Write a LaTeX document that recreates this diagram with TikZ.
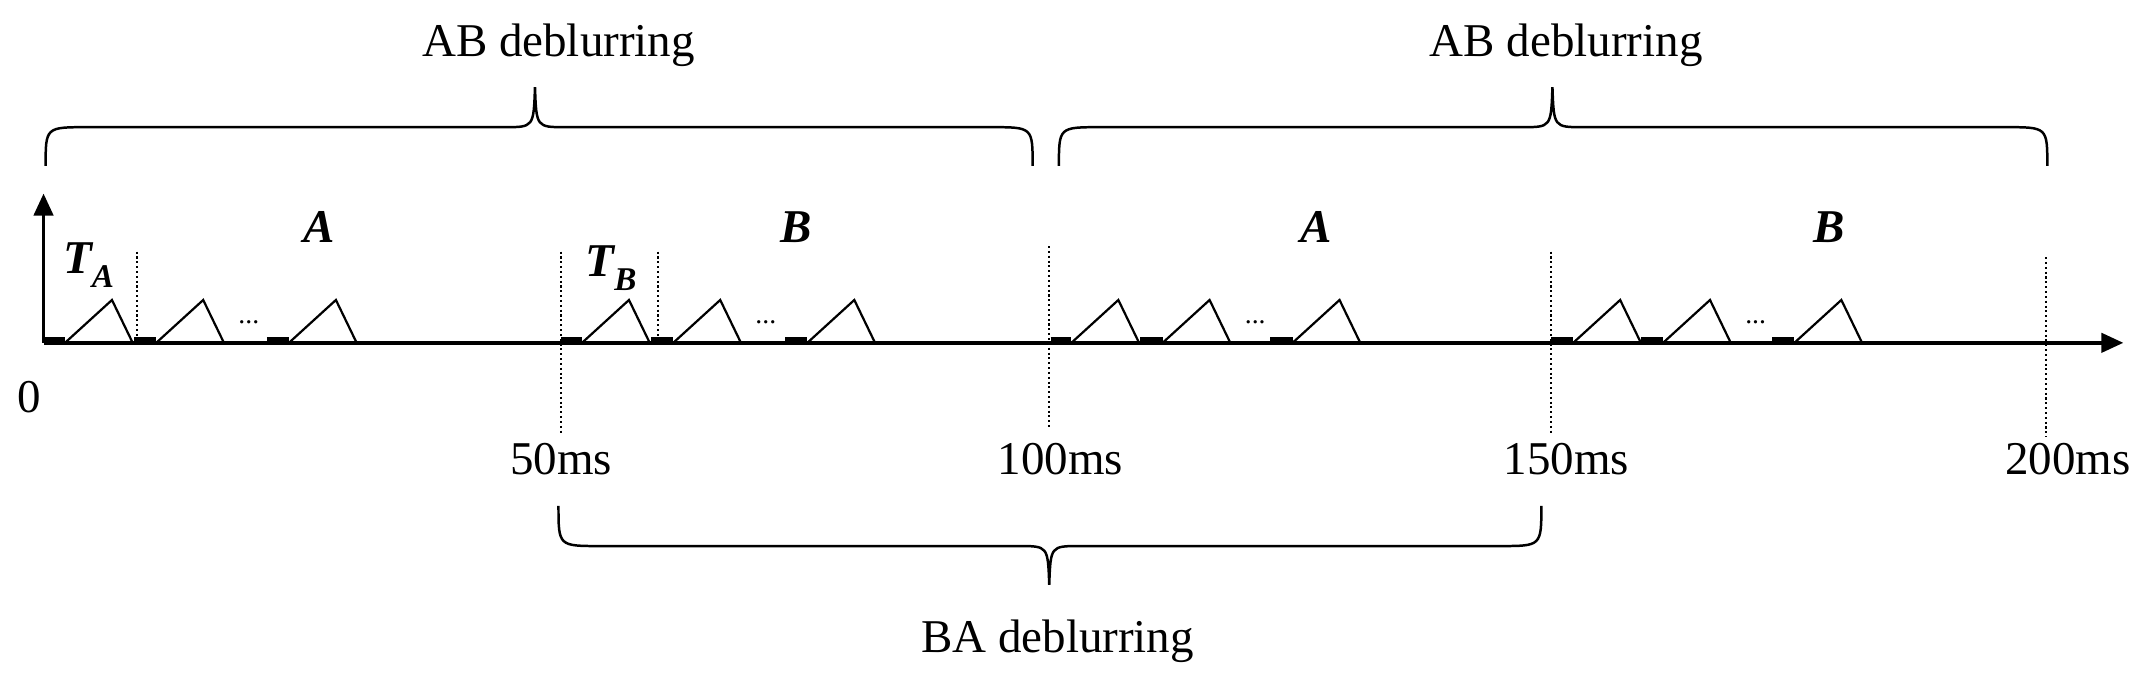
\documentclass[tikz,border=0pt]{standalone}
\usepackage{fontspec}
\setmainfont{Liberation Serif}
\usetikzlibrary{arrows.meta}
\tikzset{
  axisline/.style={line width=2.6pt,-{Triangle[length=16pt,width=14pt]}},
  pulse/.style={line width=1.6pt,line join=miter},
  thickseg/.style={line width=5pt},
  guide/.style={line width=1.5pt,dotted},
  brace/.style={line width=1.8pt},
  lbl/.style={font=\fontsize{34}{36}\selectfont,inner sep=0pt},
  biglbl/.style={font=\fontsize{34}{36}\selectfont\bfseries\itshape,inner sep=0pt},
}
\newcommand{\subsc}[1]{\raisebox{-0.3em}{\fontsize{24}{24}\selectfont #1}}
\begin{document}
\begin{tikzpicture}[x=1pt,y=-1pt]
\useasboundingbox (0,0) rectangle (1556,495);
% pulses
\foreach \s/\a/\b/\c in {32/15/81/177, 406/15/81/178, 760/15/81/175, 1122/16/81/176}{
  \draw[thickseg] (\s,246) -- (\s+\a,246);
  \draw[thickseg] (\s+\b-16,246) -- (\s+\b,246);
  \draw[thickseg] (\s+\c-16,246) -- (\s+\c,246);
  \foreach \p in {\a,\b,\c}{
    \draw[pulse] (\s+\p,248) -- (\s+\p+34,217) -- (\s+\p+49,248);
  }
  \node[font=\fontsize{20}{20}\selectfont,inner sep=0pt] at (\s+148,233) {...};
}
% axes
\coordinate (o) at (31.5,248);
\coordinate (xend) at (1536,248);
\coordinate (yend) at (31.5,140);
\draw[axisline] (o) -- (xend);
\draw[axisline] (o) -- (yend);
% dotted guides
\draw[guide] (99,182) -- (99,248);
\draw[guide] (476,182) -- (476,248);
\draw[guide] (406,182) -- (406,313);
\draw[guide] (759,178) -- (759,311);
\draw[guide] (1122,182) -- (1122,313);
\draw[guide] (1480,186) -- (1480,316);
% labels
\node[biglbl] (ta) at (64,192) {T\subsc{A}};
\node[biglbl] (tb) at (442,194) {T\subsc{B}};
\node[biglbl] (la1) at (231,164) {A};
\node[biglbl] (lb1) at (576,164) {B};
\node[biglbl] (la2) at (952,164) {A};
\node[biglbl] (lb2) at (1323,164) {B};
\node[lbl] (t0) at (21,287) {0};
\node[lbl] (t50) at (406,332) {50ms};
\node[lbl] (t100) at (767,332) {100ms};
\node[lbl] (t150) at (1133,332) {150ms};
\node[lbl] (t200) at (1496,332) {200ms};
% braces
\draw[brace] (33,120) .. controls (33,92) .. (63,92) -- (365,92) .. controls (386,92) .. (387,63) .. controls (388,92) .. (409,92) -- (717,92) .. controls (747,92) .. (747,120);
\draw[brace] (766,120) .. controls (766,92) .. (796,92) -- (1101,92) .. controls (1122,92) .. (1123,63) .. controls (1124,92) .. (1145,92) -- (1451,92) .. controls (1481,92) .. (1481,120);
\draw[brace] (404,366) .. controls (404,395) .. (434,395) -- (737,395) .. controls (758,395) .. (759,423) .. controls (760,395) .. (781,395) -- (1085,395) .. controls (1115,395) .. (1115,366);
\node[lbl] (ab1) at (404,33) {AB deblurring};
\node[lbl] (ab2) at (1133,33) {AB deblurring};
\node[lbl] (ba) at (765,464) {BA deblurring};
\end{tikzpicture}
\end{document}
